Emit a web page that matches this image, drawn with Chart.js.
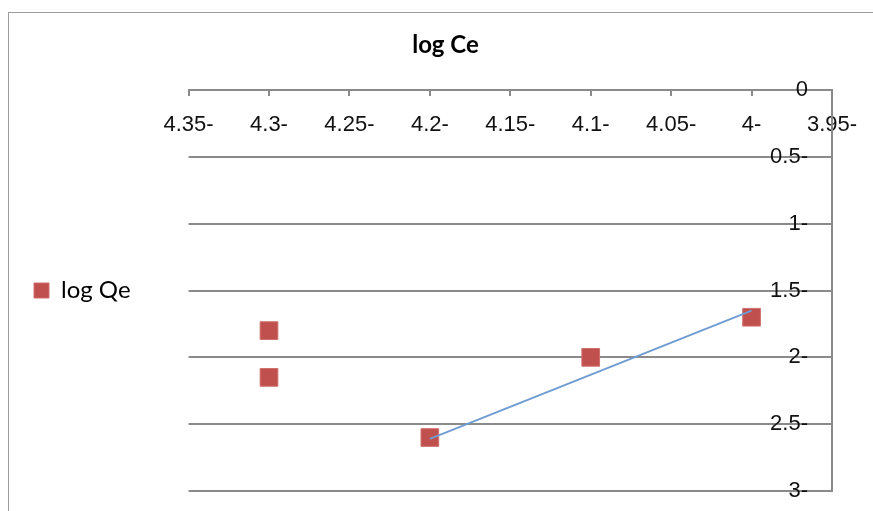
<!DOCTYPE html>
<html lang="en">
<head>
  <meta charset="UTF-8" />
  <title>log Ce vs log Qe</title>
  <script src="https://cdn.jsdelivr.net/npm/chart.js@4"></script>
  <style>
    html, body { margin: 0; padding: 0; background: #fff; overflow: hidden; }
    #wrap { position: relative; width: 873px; height: 511px; }
    #frame { position: absolute; left: 8px; top: 12px; width: 900px; height: 600px;
             border: 1.5px solid #9c9c9c; box-sizing: border-box; }
    canvas { position: absolute; left: 0; top: 0; }
  </style>
</head>
<body>
  <div id="wrap">
    <div id="frame"></div>
    <canvas id="chart" width="873" height="511"></canvas>
  </div>

  <script>
    // points
    const logCe = [4.3, 4.3, 4.2, 4.1, 4.0];
    const logQe = [1.8, 2.15, 2.6, 2.0, 1.7];
    // blue trend line end points
    const trendCe = [4.2, 4.0];
    const trendQe = [2.61, 1.65];

    const X_MIN = 3.95, X_MAX = 4.35, X_STEP = 0.05;
    const Y_MIN = 0, Y_MAX = 3, Y_STEP = 0.5;

    const GRID = '#8a8a8a';
    const TICK_FONT = { family: 'Liberation Sans', size: 22 };

    const pts = logCe.map((x, i) => ({ x, y: logQe[i] }));
    const trend = trendCe.map((x, i) => ({ x, y: trendQe[i] }));

    // trailing dash is part of the labels in the original
    const tickLabel = v => {
      const s = String(+(+v).toFixed(2));
      return s === '0' ? s : s + '-';
    };

    // fixed axis box, no label overhang padding
    const fixBox = (w, h) => s => {
      if (w != null) s.width = w;
      if (h != null) s.height = h;
      s.paddingLeft = s.paddingRight = s.paddingTop = s.paddingBottom = 0;
    };

    new Chart(document.getElementById('chart'), {
      type: 'scatter',
      data: {
        datasets: [
          { type: 'line', label: 'trend', data: trend, order: 0,
            borderColor: '#6f9bd3', borderWidth: 1.8, pointRadius: 0, fill: false },
          { label: 'log Qe', data: pts, order: 1,
            pointStyle: 'rect', pointRadius: 12.5, pointHoverRadius: 12.5,
            backgroundColor: '#c0504d', borderColor: '#cf6f6c', borderWidth: 1 }
        ]
      },
      options: {
        responsive: false,
        animation: false,
        layout: { padding: { top: 0, left: 18, right: 0, bottom: 20 } },
        plugins: {
          title: {
            display: true, text: 'log Ce', color: '#000',
            font: { family: 'Lato', size: 24, weight: 'bold', lineHeight: 1.25 },
            padding: { top: 30, bottom: 0 }
          },
          legend: {
            position: 'left', fullSize: false,
            labels: { color: '#000', boxWidth: 15, boxHeight: 15, padding: 16,
                      font: { family: 'Lato', size: 24 },
                      filter: item => item.text === 'log Qe' }
          },
          tooltip: { enabled: false }
        },
        scales: {
          x: {
            type: 'linear', position: 'top', reverse: true,
            min: X_MIN, max: X_MAX,
            afterFit: fixBox(null, 30),
            border: { display: true, color: GRID, width: 2 },
            grid: { drawOnChartArea: false, drawTicks: true, tickLength: -6, color: GRID, lineWidth: 2 },
            ticks: { stepSize: X_STEP, mirror: true, padding: 22, autoSkip: false, maxRotation: 0,
                     color: '#111', font: TICK_FONT, callback: tickLabel }
          },
          y: {
            type: 'linear', position: 'right', reverse: true,
            min: Y_MIN, max: Y_MAX,
            afterFit: fixBox(41, null),
            border: { display: true, color: GRID, width: 2 },
            grid: { drawTicks: false, color: GRID, lineWidth: 2 },
            ticks: { stepSize: Y_STEP, mirror: true, padding: -24,
                     color: '#111', font: TICK_FONT, callback: tickLabel }
          },
          gap: {
            type: 'linear', position: 'left', display: true,
            afterFit: fixBox(48, null),
            border: { display: false }, grid: { display: false }, ticks: { display: false }
          }
        }
      }
    });
  </script>
</body>
</html>
